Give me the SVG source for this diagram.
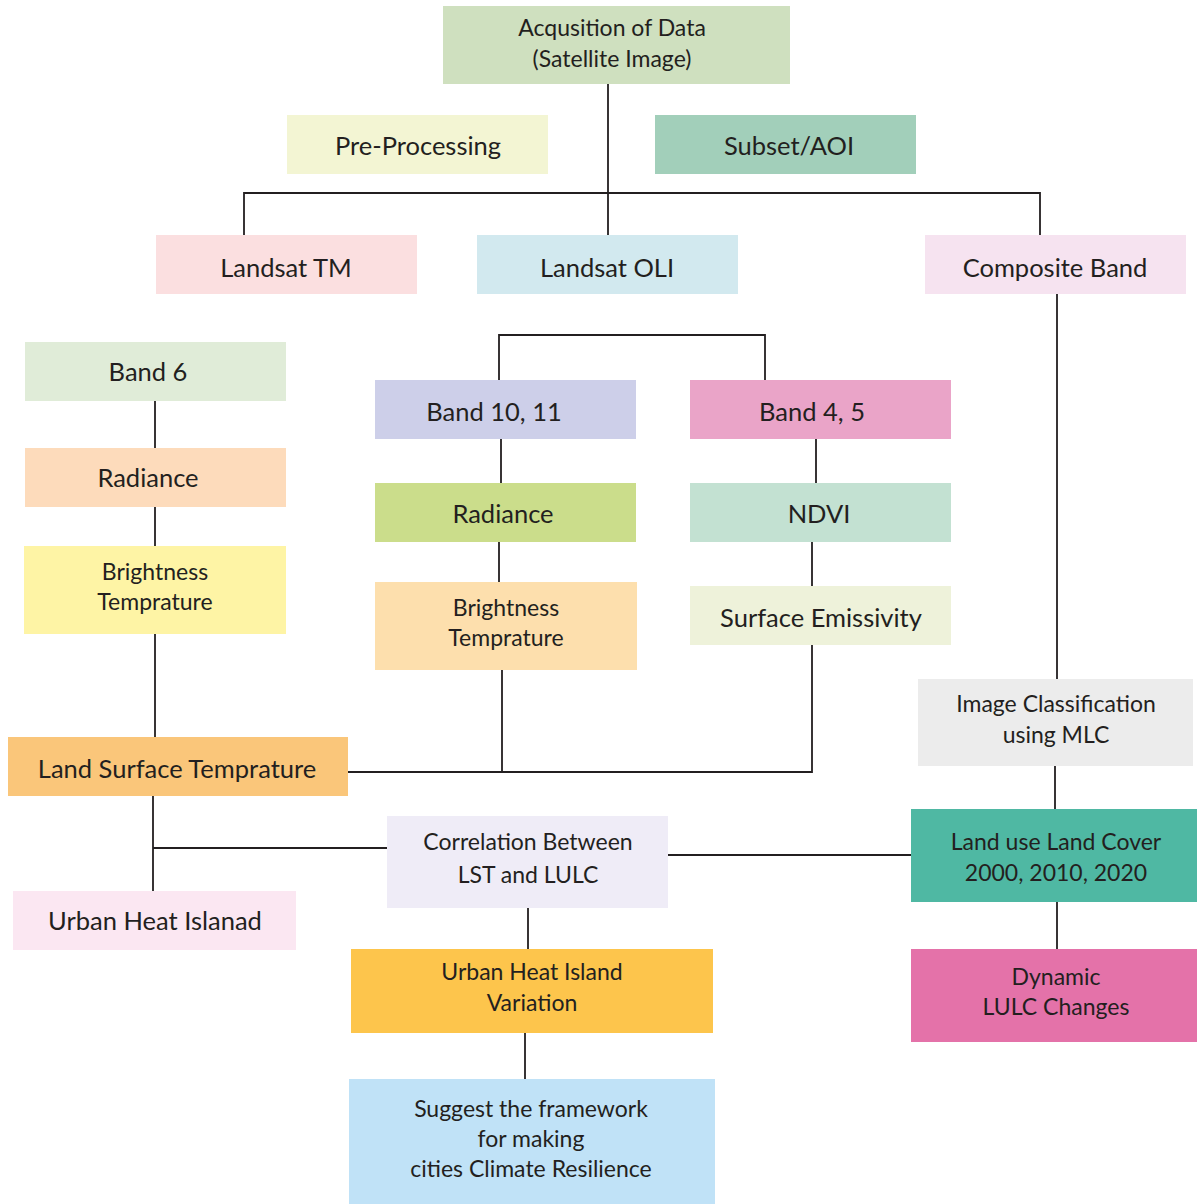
<svg xmlns="http://www.w3.org/2000/svg" width="1197" height="1204" viewBox="0 0 1197 1204">
<style>
text{font-family:Lato,"Open Sans","Liberation Sans",sans-serif;fill:#231f20;text-anchor:middle}
.l{font-size:25.5px}
.m{font-size:23px}
#connectors path{fill:none;stroke:#231f20;stroke-width:1.8}
</style>
<rect width="1197" height="1204" fill="#fff"/>
<g id="connectors">
<path d="M608 84V235M244 235V193H1040V235"/>
<path d="M155 401V448M155 507V546M155 634V737"/>
<path d="M499 380V335H765V380"/>
<path d="M501 439V483M816 439V483M499 542V582M812 542V586"/>
<path d="M348 772H812V645M502 670V772"/>
<path d="M153 796V891M153 848H387"/>
<path d="M668 855H911M528 908V949M525 1033V1079"/>
<path d="M1057 294V679M1055 766V809M1057 902V949"/>
</g>
<g id="n-acq"><rect x="443" y="6" width="347" height="78" fill="#cfe0bf"/><text class="m" x="612" y="36">Acqusition of Data</text><text class="m" x="612" y="67">(Satellite Image)</text></g>
<g id="n-pre"><rect x="287" y="115" width="261" height="59" fill="#f3f5d3"/><text class="l" x="418" y="155">Pre-Processing</text></g>
<g id="n-subset"><rect x="655" y="115" width="261" height="59" fill="#a2cfba"/><text class="l" x="789" y="155">Subset/AOI</text></g>
<g id="n-tm"><rect x="156" y="235" width="261" height="59" fill="#fbdfe0"/><text class="l" x="286" y="277">Landsat TM</text></g>
<g id="n-oli"><rect x="477" y="235" width="261" height="59" fill="#d2e9ef"/><text class="l" x="607" y="277">Landsat OLI</text></g>
<g id="n-comp"><rect x="925" y="235" width="261" height="59" fill="#f6e3f0"/><text class="l" x="1055" y="277">Composite Band</text></g>
<g id="n-band6"><rect x="25" y="342" width="261" height="59" fill="#e0ecd8"/><text class="l" x="148" y="381">Band 6</text></g>
<g id="n-rad1"><rect x="25" y="448" width="261" height="59" fill="#fddbbb"/><text class="l" x="148" y="487">Radiance</text></g>
<g id="n-bt1"><rect x="24" y="546" width="262" height="88" fill="#fef4a5"/><text class="m" x="155" y="580">Brightness</text><text class="m" x="155" y="610">Temprature</text></g>
<g id="n-b1011"><rect x="375" y="380" width="261" height="59" fill="#cdcfe9"/><text class="l" x="494" y="421">Band 10, 11</text></g>
<g id="n-b45"><rect x="690" y="380" width="261" height="59" fill="#eaa4c8"/><text class="l" x="812" y="421">Band 4, 5</text></g>
<g id="n-rad2"><rect x="375" y="483" width="261" height="59" fill="#cbdd8b"/><text class="l" x="503" y="523">Radiance</text></g>
<g id="n-ndvi"><rect x="690" y="483" width="261" height="59" fill="#c3e1d2"/><text class="l" x="819" y="523">NDVI</text></g>
<g id="n-bt2"><rect x="375" y="582" width="262" height="88" fill="#fddfad"/><text class="m" x="506" y="616">Brightness</text><text class="m" x="506" y="646">Temprature</text></g>
<g id="n-se"><rect x="690" y="586" width="261" height="59" fill="#eef2da"/><text class="l" x="821" y="627">Surface Emissivity</text></g>
<g id="n-lst"><rect x="8" y="737" width="340" height="59" fill="#fac67a"/><text class="l" x="177" y="778">Land Surface Temprature</text></g>
<g id="n-uhi"><rect x="13" y="891" width="283" height="59" fill="#fbe7f2"/><text class="l" x="155" y="930">Urban Heat Islanad</text></g>
<g id="n-corr"><rect x="387" y="816" width="281" height="92" fill="#efecf7"/><text class="m" x="528" y="850">Correlation Between</text><text class="m" x="528" y="883">LST and LULC</text></g>
<g id="n-uhiv"><rect x="351" y="949" width="362" height="84" fill="#fdc54c"/><text class="m" x="532" y="980">Urban Heat Island</text><text class="m" x="532" y="1011">Variation</text></g>
<g id="n-sug"><rect x="349" y="1079" width="366" height="125" fill="#c0e2f7"/><text class="m" x="531" y="1117">Suggest the framework</text><text class="m" x="531" y="1147">for making</text><text class="m" x="531" y="1177">cities Climate Resilience</text></g>
<g id="n-ic"><rect x="918" y="679" width="275" height="87" fill="#ececec"/><text class="m" x="1056" y="712">Image Classification</text><text class="m" x="1056" y="743">using MLC</text></g>
<g id="n-lulc"><rect x="911" y="809" width="286" height="93" fill="#4fb8a3"/><text class="m" x="1056" y="850">Land use Land Cover</text><text class="m" x="1056" y="881">2000, 2010, 2020</text></g>
<g id="n-dyn"><rect x="911" y="949" width="286" height="93" fill="#e472a9"/><text class="m" x="1056" y="985">Dynamic</text><text class="m" x="1056" y="1015">LULC Changes</text></g>
</svg>
